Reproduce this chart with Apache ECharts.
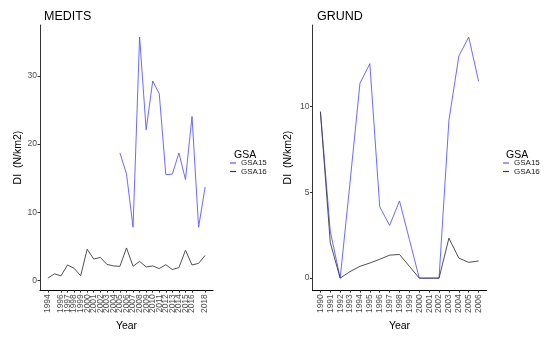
<!DOCTYPE html>
<html>
<head>
<meta charset="utf-8">
<script src="https://cdn.jsdelivr.net/npm/echarts@6/dist/echarts.min.js"></script>
<style>
html,body{margin:0;padding:0;background:#fff;}
#c{width:550px;height:337px;}
</style>
</head>
<body>
<div id="c"></div>
<script>
// ---- Data ----
var meditsYears = [1994,1995,1996,1997,1998,1999,2000,2001,2002,2003,2004,2005,2006,2007,2008,2009,2010,2011,2012,2013,2014,2015,2016,2017,2018];
var meditsGSA15 = [null,null,null,null,null,null,null,null,null,null,null,18.7,15.6,7.8,35.7,22.1,29.25,27.4,15.5,15.6,18.7,14.8,24.05,7.8,13.7];
var meditsGSA16 = [0.33,0.96,0.67,2.26,1.78,0.67,4.57,3.13,3.37,2.36,2.12,2.07,4.76,2.07,2.79,1.97,2.12,1.73,2.31,1.59,1.88,4.42,2.26,2.5,3.66];

var grundYears = [1990,1991,1992,1993,1994,1995,1996,1997,1998,1999,2000,2001,2002,2003,2004,2005,2006];
var grundGSA15 = [9.7,2.73,0,5.6,11.36,12.5,4.16,3.07,4.5,2.25,0,0,0,9.2,12.94,14.05,11.47];
var grundGSA16 = [9.7,2.06,0,0.38,0.69,0.88,1.1,1.34,1.38,0.69,0,0,0,2.33,1.17,0.92,1.0];

var meditsYTicks = [0,10,20,30];
var grundYTicks = [0,5,10];
var seriesNames = ['GSA15','GSA16'];
var panelTitles = ['MEDITS','GRUND'];

// ---- helpers ----
function pairs(xs, ys){ var out=[]; for(var i=0;i<xs.length;i++){ out.push([xs[i], ys[i]]);} return out; }
function range(arr){ var v=arr.filter(function(d){return d!=null;}); var mn=Math.min.apply(null,v), mx=Math.max.apply(null,v); var e=(mx-mn)*0.05; return [mn-e,mx+e]; }
function xrange(ys){ var a=ys[0], b=ys[ys.length-1], e=(b-a)*0.05; return [a-e,b+e]; }
var FONT = 'Liberation Sans, Arial, sans-serif';
var blue = '#5a5aff', grey = '#3c3c3c';

var medX = xrange(meditsYears);
var grX = xrange(grundYears);
var medY = range(meditsGSA15.concat(meditsGSA16));
var grY = range(grundGSA15.concat(grundGSA16));

function xAxis(idx, rng, years){
  return {
    type:'value', gridIndex: idx, min: rng[0], max: rng[1],
    name:'Year', nameLocation:'middle', nameGap: 24,
    nameTextStyle:{fontFamily:FONT, fontSize:10.5, color:'#000'},
    axisLine:{show:true, onZero:false, lineStyle:{color:'#000', width:1}},
    axisTick:{show:true, length:2.5, customValues: years, lineStyle:{color:'#333'}},
    axisLabel:{rotate:90, fontSize:8.5, fontFamily:FONT, color:'#4d4d4d', margin:4, customValues: years,
      interval:0, hideOverlap:false, showMinLabel:true, showMaxLabel:true,
      formatter:function(v){return String(Math.round(v));}},
    splitLine:{show:false}
  };
}
function yAxis(idx, rng, ticks, gap){
  return {
    type:'value', gridIndex: idx, min: rng[0], max: rng[1],
    name:'DI  (N/km2)', nameLocation:'middle', nameGap: gap, nameRotate:90,
    nameTextStyle:{fontFamily:FONT, fontSize:10.5, color:'#000'},
    axisLine:{show:true, onZero:false, lineStyle:{color:'#333', width:1}},
    axisTick:{show:true, length:2.5, customValues: ticks, lineStyle:{color:'#333'}},
    axisLabel:{fontSize:8.5, fontFamily:FONT, color:'#4d4d4d', margin:3, customValues: ticks},
    splitLine:{show:false}
  };
}
function line(name, xi, data, color){
  return {name:name, type:'line', xAxisIndex:xi, yAxisIndex:xi, data:data, showSymbol:false, symbol:'none',
    lineStyle:{color:color, width:0.9}, itemStyle:{color:color}, connectNulls:false, animation:false};
}

var chart = echarts.init(document.getElementById('c'), null, {renderer:'canvas'});
chart.setOption({
  animation:false,
  backgroundColor:'#fff',
  title:[
    {text:panelTitles[0], left:39, top:5, textStyle:{fontFamily:FONT, fontSize:12.5, fontWeight:'normal', color:'#000'}},
    {text:panelTitles[1], left:312, top:5, textStyle:{fontFamily:FONT, fontSize:12.5, fontWeight:'normal', color:'#000'}},
    {text:'GSA', left:229, top:145, textStyle:{fontFamily:FONT, fontSize:10.5, fontWeight:'normal', color:'#000'}},
    {text:'GSA', left:501, top:145, textStyle:{fontFamily:FONT, fontSize:10.5, fontWeight:'normal', color:'#000'}}
  ],
  legend:[
    {data:seriesNames, orient:'vertical', left:230, top:159, itemWidth:6, itemHeight:1.2, itemGap:0.5, icon:'rect',
     textStyle:{fontFamily:FONT, fontSize:8, color:'#1a1a1a', lineHeight:8}, selectedMode:false, padding:0},
    {data:seriesNames, orient:'vertical', left:503, top:159, itemWidth:6, itemHeight:1.2, itemGap:0.5, icon:'rect',
     textStyle:{fontFamily:FONT, fontSize:8, color:'#1a1a1a', lineHeight:8}, selectedMode:false, padding:0}
  ],
  grid:[
    {left:40, top:25, width:173, height:270},
    {left:312.5, top:25, width:174, height:270}
  ],
  xAxis:[ xAxis(0, medX, meditsYears), xAxis(1, grX, grundYears) ],
  yAxis:[ yAxis(0, medY, meditsYTicks, 16), yAxis(1, grY, grundYTicks, 19) ],
  series:[
    line(seriesNames[0], 0, pairs(meditsYears, meditsGSA15), blue),
    line(seriesNames[1], 0, pairs(meditsYears, meditsGSA16), grey),
    line(seriesNames[0], 1, pairs(grundYears, grundGSA15), blue),
    line(seriesNames[1], 1, pairs(grundYears, grundGSA16), grey)
  ]
});
</script>
</body>
</html>
